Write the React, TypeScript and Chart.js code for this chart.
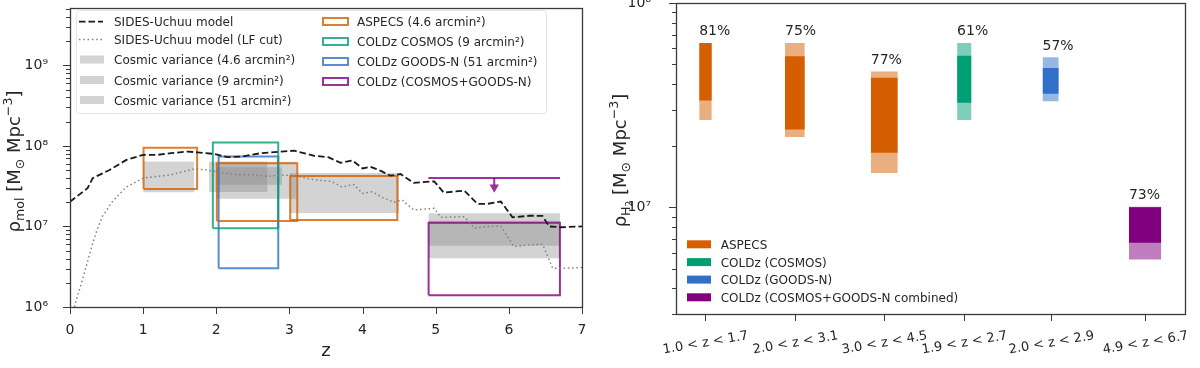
import React, { useEffect, useRef } from 'react';
import { Chart, registerables } from 'chart.js';

Chart.register(...registerables);

const FONT = "'DejaVu Sans', 'Liberation Sans', sans-serif";
const TEXT = '#262626';
const SPINE = '#3a3a3a';

// ---------------- Left panel data ----------------
const modelZ = [0, 0.24, 0.31, 0.54, 0.77, 1.0, 1.19, 1.38, 1.61, 1.74, 1.97, 2.15, 2.34, 2.61, 2.89, 3.07, 3.34, 3.53, 3.7, 3.86, 4.0, 4.11, 4.25, 4.38, 4.52, 4.7, 4.98, 5.11, 5.39, 5.57, 5.71, 5.89, 6.05, 6.3, 6.46, 6.55, 6.71, 7.0];
const modelRho = [2.03e7, 2.98e7, 3.98e7, 5.01e7, 6.7e7, 7.73e7, 7.73e7, 8.13e7, 8.51e7, 8.32e7, 7.94e7, 7.24e7, 7.36e7, 8.13e7, 8.51e7, 8.71e7, 7.52e7, 7.24e7, 6.17e7, 6.61e7, 5.25e7, 5.5e7, 4.9e7, 4.27e7, 4.47e7, 3.47e7, 3.63e7, 2.63e7, 2.79e7, 1.91e7, 1.91e7, 2.04e7, 1.3e7, 1.36e7, 1.35e7, 1.0e7, 9.77e6, 1.0e7];

const lfZ = [0.06, 0.1, 0.17, 0.24, 0.31, 0.37, 0.44, 0.58, 0.77, 1.0, 1.19, 1.38, 1.7, 1.88, 2.06, 2.29, 2.52, 2.7, 2.89, 3.07, 3.34, 3.57, 3.72, 3.88, 4.0, 4.13, 4.29, 4.43, 4.54, 4.7, 4.98, 5.07, 5.39, 5.53, 5.71, 5.89, 6.07, 6.26, 6.46, 6.6, 6.71, 7.0];
const lfRho = [1.0e6, 1.35e6, 2.16e6, 3.66e6, 6.17e6, 9.06e6, 1.32e7, 2.04e7, 3.09e7, 3.98e7, 4.17e7, 4.37e7, 5.18e7, 5.01e7, 4.68e7, 4.37e7, 4.37e7, 4.17e7, 4.37e7, 4.27e7, 3.8e7, 3.63e7, 3.09e7, 3.31e7, 2.57e7, 2.69e7, 2.24e7, 2.0e7, 2.14e7, 1.6e7, 1.68e7, 1.3e7, 1.32e7, 9.55e6, 1.0e7, 1.01e7, 5.62e6, 5.89e6, 6.03e6, 3.02e6, 3.02e6, 3.09e6];

const cvLabels = ['Cosmic variance (4.6 arcmin²)', 'Cosmic variance (9 arcmin²)', 'Cosmic variance (51 arcmin²)'];
const cvField = [0, 0, 0, 1, 2, 1, 2];
const cvZLo = [1.0, 2.0, 3.0, 1.9, 2.0, 4.9, 4.9];
const cvZHi = [1.7, 3.1, 4.5, 2.7, 2.9, 6.7, 6.7];
const cvLo = [2.66e7, 2.21e7, 1.47e7, 2.67e7, 3.3e7, 4.03e6, 5.77e6];
const cvHi = [6.38e7, 6.37e7, 4.62e7, 6.37e7, 5.42e7, 1.46e7, 1.18e7];

const surveyLabels = ['ASPECS (4.6 arcmin²)', 'COLDz COSMOS (9 arcmin²)', 'COLDz GOODS-N (51 arcmin²)', 'COLDz (COSMOS+GOODS-N)'];
const boxSurvey = [0, 0, 0, 1, 2, 3];
const boxZLo = [1.006, 2.008, 3.011, 1.953, 2.032, 4.903];
const boxZHi = [1.738, 3.107, 4.475, 2.847, 2.847, 6.698];
const boxLo = [2.92e7, 1.17e7, 1.2e7, 9.5e6, 3.03e6, 1.4e6];
const boxHi = [9.5e7, 6.1e7, 4.24e7, 1.1e8, 7.36e7, 1.11e7];

const ulZLo = 4.9;
const ulZHi = 6.7;
const ulValue = 4.0e7;

const modelLabels = ['SIDES-Uchuu model', 'SIDES-Uchuu model (LF cut)'];

// ---------------- Right panel data ----------------
const binLabels = ['1.0 < z < 1.7', '2.0 < z < 3.1', '3.0 < z < 4.5', '1.9 < z < 2.7', '2.0 < z < 2.9', '4.9 < z < 6.7'];
const binZLo = [1.0, 2.0, 3.0, 1.9, 2.0, 4.9];
const binZHi = [1.7, 3.1, 4.5, 2.7, 2.9, 6.7];
const binSlot = [1.64, 6.61, 11.58, 16.03, 20.83, 26.08];
const binSurvey = [0, 0, 0, 1, 2, 3];
const outerLo = [2.67e7, 2.21e7, 1.47e7, 2.67e7, 3.3e7, 5.55e6];
const outerHi = [6.37e7, 6.37e7, 4.62e7, 6.37e7, 5.42e7, 1.005e7];
const innerLo = [3.33e7, 2.4e7, 1.85e7, 3.25e7, 3.59e7, 6.7e6];
const innerHi = [6.37e7, 5.48e7, 4.3e7, 5.52e7, 4.81e7, 1.0e7];
const fractions = ['81%', '75%', '77%', '61%', '57%', '73%'];
const rightLegend = ['ASPECS', 'COLDz (COSMOS)', 'COLDz (GOODS-N)', 'COLDz (COSMOS+GOODS-N combined)'];

const surveyRGB = ['213,94,0', '0,158,115', '48,112,200', '128,0,128'];

// ---------------- helpers ----------------
const SUP: Record<string, string> = { '0': '⁰', '1': '¹', '2': '²', '3': '³', '4': '⁴', '5': '⁵', '6': '⁶', '7': '⁷', '8': '⁸', '9': '⁹', '-': '⁻' };
const powLabel = (v: any) => {
  const e = Math.log10(Number(v));
  if (Math.abs(e - Math.round(e)) < 1e-6) return '10' + String(Math.round(e)).split('').map((c) => SUP[c]).join('');
  return '';
};
const logTicks = (scale: any) => {
  const ticks: any[] = [];
  const lo = Math.floor(Math.log10(scale.min));
  const hi = Math.ceil(Math.log10(scale.max));
  for (let e = lo; e <= hi; e++) {
    for (let m = 1; m <= 9; m++) {
      const v = m * Math.pow(10, e);
      if (v >= scale.min * 0.9999 && v <= scale.max * 1.0001) ticks.push({ value: v, major: m === 1 });
    }
  }
  scale.ticks = ticks;
};

type Part = { t: string; s?: number; dy?: number };
function drawRich(ctx: CanvasRenderingContext2D, parts: Part[], size: number, cx: number, cy: number, rotate: boolean) {
  ctx.save();
  ctx.translate(cx, cy);
  if (rotate) ctx.rotate(-Math.PI / 2);
  let total = 0;
  const widths = parts.map((p) => {
    ctx.font = `${size * (p.s ?? 1)}px ${FONT}`;
    const w = ctx.measureText(p.t).width;
    total += w;
    return w;
  });
  let x = -total / 2;
  ctx.textAlign = 'left';
  ctx.textBaseline = 'alphabetic';
  ctx.fillStyle = TEXT;
  parts.forEach((p, i) => {
    ctx.font = `${size * (p.s ?? 1)}px ${FONT}`;
    ctx.fillText(p.t, x, (p.dy ?? 0) * size);
    x += widths[i];
  });
  ctx.restore();
}

function drawFrameAndYTicks(chart: any) {
  const ctx: CanvasRenderingContext2D = chart.ctx;
  const { left, right, top, bottom } = chart.chartArea;
  const ys = chart.scales.y;
  ctx.save();
  ctx.strokeStyle = SPINE;
  ctx.lineWidth = 1;
  ys.ticks.forEach((t: any) => {
    const py = Math.round(ys.getPixelForValue(t.value)) + 0.5;
    const len = t.major ? 7 : 4;
    ctx.beginPath();
    ctx.moveTo(left - len, py);
    ctx.lineTo(left, py);
    ctx.stroke();
  });
  ctx.lineWidth = 1.3;
  ctx.strokeRect(Math.round(left) + 0.5, Math.round(top) + 0.5, Math.round(right - left), Math.round(bottom - top));
  ctx.restore();
}

const rectPoly = (x0: number, x1: number, lo: number, hi: number) => [
  { x: x0, y: lo }, { x: x1, y: lo }, { x: x1, y: hi }, { x: x0, y: hi }, { x: x0, y: lo },
];

// ---------------- Left chart ----------------
function leftConfig(): any {
  const datasets: any[] = [];
  datasets.push({
    data: modelZ.map((z, i) => ({ x: z, y: modelRho[i] })),
    borderColor: '#1a1a1a', borderWidth: 1.8, borderDash: [6.5, 3], pointRadius: 0, fill: false, tension: 0, order: 0,
  });
  datasets.push({
    data: lfZ.map((z, i) => ({ x: z, y: lfRho[i] })),
    borderColor: '#808080', borderWidth: 1.5, borderDash: [1.5, 2.8], pointRadius: 0, fill: false, tension: 0, order: 0,
  });
  boxZLo.forEach((z0, i) => {
    datasets.push({
      data: rectPoly(z0, boxZHi[i], boxLo[i], boxHi[i]),
      borderColor: `rgba(${surveyRGB[boxSurvey[i]]},0.8)`, borderWidth: 2, borderJoinStyle: 'miter',
      pointRadius: 0, fill: false, tension: 0, order: 1,
    });
  });
  const ulMid = (ulZLo + ulZHi) / 2;
  const purple = `rgba(${surveyRGB[3]},0.8)`;
  datasets.push({
    data: [{ x: ulZLo, y: ulValue }, { x: ulZHi, y: ulValue }],
    borderColor: purple, borderWidth: 2, pointRadius: 0, fill: false, order: 1,
  });
  datasets.push({
    data: [{ x: ulMid, y: ulValue }, { x: ulMid, y: ulValue / 1.22 }],
    borderColor: purple, borderWidth: 2, pointRadius: 0, fill: false, order: 1,
  });
  datasets.push({
    data: [{ x: ulMid, y: ulValue / 1.3 }],
    showLine: false, pointStyle: 'triangle', rotation: 180, pointRadius: 5.5,
    pointBackgroundColor: purple, pointBorderWidth: 0, pointBorderColor: 'rgba(0,0,0,0)', order: 1,
  });
  cvZLo.forEach((z0, i) => {
    datasets.push({
      data: [{ x: z0, y: cvHi[i] }, { x: cvZHi[i], y: cvHi[i] }],
      borderColor: 'rgba(0,0,0,0)', borderWidth: 0, pointRadius: 0,
      backgroundColor: 'rgba(128,128,128,0.35)', fill: { value: cvLo[i] }, order: 2,
    });
  });

  const decor = {
    id: 'leftDecor',
    afterDraw(chart: any) {
      const ctx: CanvasRenderingContext2D = chart.ctx;
      const { left, right, top, bottom } = chart.chartArea;
      drawFrameAndYTicks(chart);
      const xs = chart.scales.x;
      ctx.save();
      ctx.strokeStyle = SPINE;
      ctx.lineWidth = 1;
      xs.ticks.forEach((t: any) => {
        const px = Math.round(xs.getPixelForValue(t.value)) + 0.5;
        ctx.beginPath();
        ctx.moveTo(px, bottom);
        ctx.lineTo(px, bottom + 7);
        ctx.stroke();
      });
      ctx.restore();

      // axis titles
      drawRich(ctx, [
        { t: 'ρ' }, { t: 'mol', s: 0.7, dy: 0.22 }, { t: ' [M' }, { t: '⊙', s: 0.7, dy: 0.22 },
        { t: ' Mpc' }, { t: '−3', s: 0.7, dy: -0.42 }, { t: ']' },
      ], 18, 20, (top + bottom) / 2 + 4, true);
      drawRich(ctx, [{ t: 'z' }], 18, (left + right) / 2, 356, false);

      // legend
      ctx.save();
      ctx.beginPath();
      (ctx as any).roundRect(76.5, 10.5, 470, 103, 3);
      ctx.fillStyle = 'rgba(255,255,255,0.8)';
      ctx.fill();
      ctx.strokeStyle = '#e4e4e4';
      ctx.lineWidth = 1;
      ctx.stroke();

      const col1 = [21.7, 39.5, 59.5, 80, 100];
      const col2 = [21.5, 41.5, 61.5, 81.5];
      ctx.font = `12px ${FONT}`;
      ctx.fillStyle = TEXT;
      ctx.textBaseline = 'alphabetic';
      ctx.textAlign = 'left';
      ctx.lineWidth = 1.8;
      ctx.strokeStyle = '#1a1a1a';
      ctx.setLineDash([6.5, 3]);
      ctx.beginPath(); ctx.moveTo(79, col1[0]); ctx.lineTo(103, col1[0]); ctx.stroke();
      ctx.lineWidth = 1.5;
      ctx.strokeStyle = '#808080';
      ctx.setLineDash([1.5, 2.8]);
      ctx.beginPath(); ctx.moveTo(79, col1[1]); ctx.lineTo(103, col1[1]); ctx.stroke();
      ctx.setLineDash([]);
      modelLabels.forEach((l, i) => { ctx.fillStyle = TEXT; ctx.fillText(l, 114, col1[i] + 4.5); });
      cvLabels.forEach((l, i) => {
        const y = col1[i + 2];
        ctx.fillStyle = 'rgba(128,128,128,0.35)';
        ctx.fillRect(80, y - 4, 24, 8);
        ctx.fillStyle = TEXT;
        ctx.fillText(l, 114, y + 4.5);
      });
      surveyLabels.forEach((l, i) => {
        const y = col2[i];
        ctx.strokeStyle = `rgba(${surveyRGB[i]},0.8)`;
        ctx.lineWidth = 2;
        ctx.strokeRect(323, y - 3.5, 25, 7);
        ctx.fillStyle = TEXT;
        ctx.fillText(l, 357, y + 4.5);
      });
      ctx.restore();
    },
  };

  return {
    type: 'line',
    data: { datasets },
    options: {
      responsive: false,
      animation: false,
      layout: { padding: { top: 8, right: 18, left: 0, bottom: 0 } },
      plugins: { legend: { display: false }, tooltip: { enabled: false } },
      elements: { line: { tension: 0 } },
      scales: {
        x: {
          type: 'linear', min: 0, max: 7,
          grid: { display: false }, border: { display: false },
          ticks: { stepSize: 1, font: { size: 14, family: FONT }, color: TEXT, padding: 7, autoSkip: false, maxRotation: 0 },
          afterFit: (s: any) => { s.height = 61; s.paddingLeft = 0; s.paddingRight = 0; },
        },
        y: {
          type: 'logarithmic', min: 1e6, max: 5.15e9,
          grid: { display: false }, border: { display: false },
          afterBuildTicks: logTicks,
          ticks: { callback: powLabel, font: { size: 14, family: FONT }, color: TEXT, padding: 14, autoSkip: false },
          afterFit: (s: any) => { s.width = 70; s.paddingTop = 0; s.paddingBottom = 0; },
        },
      },
    },
    plugins: [decor],
  };
}

// ---------------- Right chart ----------------
function rightConfig(): any {
  const datasets: any[] = [];
  binSlot.forEach((c, i) => {
    const half = (binZHi[i] - binZLo[i]) / 2;
    const rgb = surveyRGB[binSurvey[i]];
    datasets.push({
      data: [{ x: c - half, y: outerHi[i] }, { x: c + half, y: outerHi[i] }],
      borderColor: 'rgba(0,0,0,0)', borderWidth: 0, pointRadius: 0,
      backgroundColor: `rgba(${rgb},0.5)`, fill: { value: outerLo[i] }, order: 1,
    });
    datasets.push({
      data: [{ x: c - half, y: innerHi[i] }, { x: c + half, y: innerHi[i] }],
      borderColor: 'rgba(0,0,0,0)', borderWidth: 0, pointRadius: 0,
      backgroundColor: `rgb(${rgb})`, fill: { value: innerLo[i] }, order: 0,
    });
  });

  const decor = {
    id: 'rightDecor',
    afterDraw(chart: any) {
      const ctx: CanvasRenderingContext2D = chart.ctx;
      const { top, bottom } = chart.chartArea;
      const xs = chart.scales.x;
      const ys = chart.scales.y;
      drawFrameAndYTicks(chart);
      ctx.save();
      ctx.strokeStyle = SPINE;
      ctx.lineWidth = 1;
      ctx.fillStyle = TEXT;
      binSlot.forEach((c, i) => {
        const px = Math.round(xs.getPixelForValue(c)) + 0.5;
        ctx.beginPath();
        ctx.moveTo(px, bottom);
        ctx.lineTo(px, bottom + 7);
        ctx.stroke();
        ctx.save();
        ctx.translate(px, 343);
        ctx.rotate((-9.5 * Math.PI) / 180);
        ctx.font = `13px ${FONT}`;
        ctx.textAlign = 'center';
        ctx.textBaseline = 'middle';
        ctx.fillText(binLabels[i], 0, 0);
        ctx.restore();
        const half = (binZHi[i] - binZLo[i]) / 2;
        const lx = xs.getPixelForValue(c - half);
        const ly = ys.getPixelForValue(outerHi[i]) - 7.5;
        ctx.font = `14px ${FONT}`;
        ctx.textAlign = 'left';
        ctx.textBaseline = 'alphabetic';
        ctx.fillText(fractions[i], lx, ly);
      });
      const rows = [244.3, 262.1, 279.6, 297.3];
      ctx.font = `12px ${FONT}`;
      rightLegend.forEach((l, i) => {
        ctx.fillStyle = `rgb(${surveyRGB[i]})`;
        ctx.fillRect(87, rows[i] - 4, 24, 8);
        ctx.fillStyle = TEXT;
        ctx.fillText(l, 120.7, rows[i] + 4.5);
      });
      ctx.restore();
      drawRich(ctx, [
        { t: 'ρ' }, { t: 'H', s: 0.7, dy: 0.22 }, { t: '2', s: 0.5, dy: 0.34 }, { t: ' [M' }, { t: '⊙', s: 0.7, dy: 0.22 },
        { t: ' Mpc' }, { t: '−3', s: 0.7, dy: -0.42 }, { t: ']' },
      ], 18, 26, (top + bottom) / 2 + 2, true);
    },
  };

  return {
    type: 'line',
    data: { datasets },
    options: {
      responsive: false,
      animation: false,
      layout: { padding: { top: 3, right: 15, left: 0, bottom: 0 } },
      plugins: { legend: { display: false }, tooltip: { enabled: false } },
      scales: {
        x: {
          type: 'linear', min: 0, max: 28.3,
          grid: { display: false }, border: { display: false },
          ticks: { display: false },
          afterFit: (s: any) => { s.height = 54; s.paddingLeft = 0; s.paddingRight = 0; },
        },
        y: {
          type: 'logarithmic', min: 3e6, max: 1e8,
          grid: { display: false }, border: { display: false },
          afterBuildTicks: logTicks,
          ticks: { callback: powLabel, font: { size: 14, family: FONT }, color: TEXT, padding: 17, autoSkip: false },
          afterFit: (s: any) => { s.width = 76; s.paddingTop = 0; s.paddingBottom = 0; },
        },
      },
    },
    plugins: [decor],
  };
}

export default function App() {
  const leftRef = useRef<HTMLCanvasElement>(null);
  const rightRef = useRef<HTMLCanvasElement>(null);
  useEffect(() => {
    Chart.defaults.font.family = FONT;
    Chart.defaults.color = TEXT;
    const left = new Chart(leftRef.current as HTMLCanvasElement, leftConfig());
    const right = new Chart(rightRef.current as HTMLCanvasElement, rightConfig());
    return () => {
      left.destroy();
      right.destroy();
    };
  }, []);
  return (
    <div style={{ position: 'absolute', left: 0, top: 0, width: 1200, height: 368, background: '#ffffff' }}>
      <canvas ref={leftRef} width={600} height={368} style={{ position: 'absolute', left: 0, top: 0, width: 600, height: 368 }} />
      <canvas ref={rightRef} width={600} height={368} style={{ position: 'absolute', left: 600, top: 0, width: 600, height: 368 }} />
    </div>
  );
}
